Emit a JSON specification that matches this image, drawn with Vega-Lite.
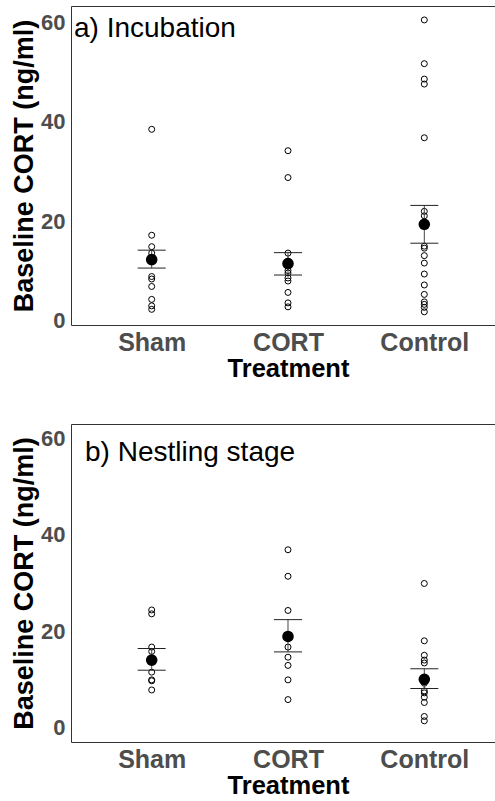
{
  "$schema": "https://vega.github.io/schema/vega-lite/v6.json",
  "background": "white",
  "padding": {"left": 10, "top": 6, "right": 0, "bottom": 0},
  "spacing": 42,
  "config": {
    "font": "Liberation Sans",
    "view": {"stroke": null},
    "axis": {
      "grid": false,
      "ticks": false,
      "tickSize": 0,
      "domainColor": "#333333",
      "domainWidth": 1,
      "labelFont": "Liberation Sans",
      "labelFontWeight": "bold",
      "labelColor": "#4d4d4d",
      "titleFont": "Liberation Sans",
      "titleFontWeight": "bold",
      "titleColor": "#000000"
    }
  },
  "datasets": {
    "raw": [
      {"panel": "a", "treatment": "Sham", "cort": 38.5},
      {"panel": "a", "treatment": "Sham", "cort": 17.2},
      {"panel": "a", "treatment": "Sham", "cort": 14.9},
      {"panel": "a", "treatment": "Sham", "cort": 13.6},
      {"panel": "a", "treatment": "Sham", "cort": 12.6},
      {"panel": "a", "treatment": "Sham", "cort": 8.9},
      {"panel": "a", "treatment": "Sham", "cort": 8.4},
      {"panel": "a", "treatment": "Sham", "cort": 6.9},
      {"panel": "a", "treatment": "Sham", "cort": 4.3},
      {"panel": "a", "treatment": "Sham", "cort": 3.0},
      {"panel": "a", "treatment": "Sham", "cort": 2.3},
      {"panel": "a", "treatment": "CORT", "cort": 34.2},
      {"panel": "a", "treatment": "CORT", "cort": 28.8},
      {"panel": "a", "treatment": "CORT", "cort": 13.6},
      {"panel": "a", "treatment": "CORT", "cort": 12.0},
      {"panel": "a", "treatment": "CORT", "cort": 10.1},
      {"panel": "a", "treatment": "CORT", "cort": 9.6},
      {"panel": "a", "treatment": "CORT", "cort": 8.6},
      {"panel": "a", "treatment": "CORT", "cort": 8.0},
      {"panel": "a", "treatment": "CORT", "cort": 5.7},
      {"panel": "a", "treatment": "CORT", "cort": 3.6},
      {"panel": "a", "treatment": "CORT", "cort": 2.8},
      {"panel": "a", "treatment": "Control", "cort": 60.5},
      {"panel": "a", "treatment": "Control", "cort": 51.7},
      {"panel": "a", "treatment": "Control", "cort": 48.6},
      {"panel": "a", "treatment": "Control", "cort": 47.6},
      {"panel": "a", "treatment": "Control", "cort": 36.8},
      {"panel": "a", "treatment": "Control", "cort": 22.0},
      {"panel": "a", "treatment": "Control", "cort": 21.1},
      {"panel": "a", "treatment": "Control", "cort": 15.0},
      {"panel": "a", "treatment": "Control", "cort": 14.6},
      {"panel": "a", "treatment": "Control", "cort": 13.1},
      {"panel": "a", "treatment": "Control", "cort": 11.6},
      {"panel": "a", "treatment": "Control", "cort": 9.4},
      {"panel": "a", "treatment": "Control", "cort": 7.2},
      {"panel": "a", "treatment": "Control", "cort": 5.3},
      {"panel": "a", "treatment": "Control", "cort": 3.8},
      {"panel": "a", "treatment": "Control", "cort": 3.3},
      {"panel": "a", "treatment": "Control", "cort": 2.7},
      {"panel": "a", "treatment": "Control", "cort": 1.8},
      {"panel": "b", "treatment": "Sham", "cort": 24.4},
      {"panel": "b", "treatment": "Sham", "cort": 23.6},
      {"panel": "b", "treatment": "Sham", "cort": 16.7},
      {"panel": "b", "treatment": "Sham", "cort": 15.8},
      {"panel": "b", "treatment": "Sham", "cort": 11.5},
      {"panel": "b", "treatment": "Sham", "cort": 9.9},
      {"panel": "b", "treatment": "Sham", "cort": 9.7},
      {"panel": "b", "treatment": "Sham", "cort": 7.8},
      {"panel": "b", "treatment": "CORT", "cort": 36.9},
      {"panel": "b", "treatment": "CORT", "cort": 31.4},
      {"panel": "b", "treatment": "CORT", "cort": 24.3},
      {"panel": "b", "treatment": "CORT", "cort": 16.7},
      {"panel": "b", "treatment": "CORT", "cort": 14.6},
      {"panel": "b", "treatment": "CORT", "cort": 12.9},
      {"panel": "b", "treatment": "CORT", "cort": 9.9},
      {"panel": "b", "treatment": "CORT", "cort": 5.8},
      {"panel": "b", "treatment": "Control", "cort": 29.9},
      {"panel": "b", "treatment": "Control", "cort": 18.0},
      {"panel": "b", "treatment": "Control", "cort": 15.0},
      {"panel": "b", "treatment": "Control", "cort": 14.0},
      {"panel": "b", "treatment": "Control", "cort": 13.4},
      {"panel": "b", "treatment": "Control", "cort": 9.2},
      {"panel": "b", "treatment": "Control", "cort": 7.6},
      {"panel": "b", "treatment": "Control", "cort": 7.2},
      {"panel": "b", "treatment": "Control", "cort": 6.3},
      {"panel": "b", "treatment": "Control", "cort": 5.2},
      {"panel": "b", "treatment": "Control", "cort": 2.3},
      {"panel": "b", "treatment": "Control", "cort": 1.4}
    ],
    "summary": [
      {"panel": "a", "treatment": "Sham", "mean": 12.3, "lo": 10.6, "hi": 14.2},
      {"panel": "a", "treatment": "CORT", "mean": 11.5, "lo": 9.2, "hi": 13.7},
      {"panel": "a", "treatment": "Control", "mean": 19.4, "lo": 15.6, "hi": 23.2},
      {"panel": "b", "treatment": "Sham", "mean": 14.0, "lo": 11.9, "hi": 16.4},
      {"panel": "b", "treatment": "CORT", "mean": 18.9, "lo": 15.7, "hi": 22.4},
      {"panel": "b", "treatment": "Control", "mean": 10.0, "lo": 8.1, "hi": 12.2}
    ]
  },
  "vconcat": [
    {
      "width": 424,
      "height": 319,
      "title": {"text": "a) Incubation", "anchor": "start", "frame": "group", "orient": "none", "align": "left", "fontSize": 28, "fontWeight": "normal", "color": "#000000", "font": "Liberation Sans", "offset": 0, "baseline": "alphabetic", "dx": 3, "dy": 31},
      "resolve": {"axis": {"x": "independent"}},
      "layer": [
        {
          "data": {"name": "raw"},
          "transform": [{"filter": "datum.panel == 'a'"}],
          "mark": {"type": "point", "shape": "circle", "filled": false, "stroke": "#000000", "strokeWidth": 1, "size": 36, "opacity": 1},
          "encoding": {
            "x": {"field": "treatment", "type": "nominal", "sort": ["Sham", "CORT", "Control"], "scale": {"type": "point", "padding": 0.5553, "align": 0.533},
              "axis": {"orient": "bottom", "labelAngle": 0, "labelFontSize": 25, "labelPadding": 5, "title": "Treatment", "titleFontSize": 25.5, "titlePadding": 1, "titleX": 217}},
            "y": {"field": "cort", "type": "quantitative", "scale": {"domain": [-0.85, 63.3], "nice": false, "zero": false},
              "axis": {"values": [0, 20, 40, 60], "labelFontSize": 22, "labelPadding": 6, "title": "Baseline CORT (ng/ml)", "titleFontSize": 27, "titlePadding": 2}}
          }
        },
        {
          "data": {"name": "summary"},
          "transform": [{"filter": "datum.panel == 'a'"}],
          "mark": {"type": "rule", "color": "#444444", "strokeWidth": 1},
          "encoding": {
            "x": {"field": "treatment", "type": "nominal", "sort": ["Sham", "CORT", "Control"], "scale": {"type": "point", "padding": 0.5553, "align": 0.533}, "axis": null},
            "y": {"field": "lo", "type": "quantitative", "scale": {"domain": [-0.85, 63.3], "nice": false, "zero": false}, "axis": {"title": "Baseline CORT (ng/ml)"}},
            "y2": {"field": "hi"}
          }
        },
        {
          "data": {"name": "summary"},
          "transform": [{"filter": "datum.panel == 'a'"}],
          "mark": {"type": "tick", "orient": "horizontal", "size": 28, "thickness": 1, "color": "#222222", "opacity": 1},
          "encoding": {
            "x": {"field": "treatment", "type": "nominal", "sort": ["Sham", "CORT", "Control"], "scale": {"type": "point", "padding": 0.5553, "align": 0.533}, "axis": null},
            "y": {"field": "hi", "type": "quantitative", "scale": {"domain": [-0.85, 63.3], "nice": false, "zero": false}, "axis": {"title": "Baseline CORT (ng/ml)"}}
          }
        },
        {
          "data": {"name": "summary"},
          "transform": [{"filter": "datum.panel == 'a'"}],
          "mark": {"type": "tick", "orient": "horizontal", "size": 28, "thickness": 1, "color": "#222222", "opacity": 1},
          "encoding": {
            "x": {"field": "treatment", "type": "nominal", "sort": ["Sham", "CORT", "Control"], "scale": {"type": "point", "padding": 0.5553, "align": 0.533}, "axis": null},
            "y": {"field": "lo", "type": "quantitative", "scale": {"domain": [-0.85, 63.3], "nice": false, "zero": false}, "axis": {"title": "Baseline CORT (ng/ml)"}}
          }
        },
        {
          "data": {"name": "summary"},
          "transform": [{"filter": "datum.panel == 'a'"}],
          "mark": {"type": "circle", "color": "#000000", "size": 135, "opacity": 1},
          "encoding": {
            "x": {"field": "treatment", "type": "nominal", "sort": ["Sham", "CORT", "Control"], "scale": {"type": "point", "padding": 0.5553, "align": 0.533},
              "axis": {"orient": "top", "labels": false, "ticks": false, "title": null, "domain": true}},
            "y": {"field": "mean", "type": "quantitative", "scale": {"domain": [-0.85, 63.3], "nice": false, "zero": false}, "axis": {"title": "Baseline CORT (ng/ml)"}}
          }
        }
      ]
    },
    {
      "width": 424,
      "height": 318,
      "title": {"text": "b) Nestling stage", "anchor": "start", "frame": "group", "orient": "none", "align": "left", "fontSize": 28, "fontWeight": "normal", "color": "#000000", "font": "Liberation Sans", "offset": 0, "baseline": "alphabetic", "dx": 14, "dy": 37},
      "resolve": {"axis": {"x": "independent"}},
      "layer": [
        {
          "data": {"name": "raw"},
          "transform": [{"filter": "datum.panel == 'b'"}],
          "mark": {"type": "point", "shape": "circle", "filled": false, "stroke": "#000000", "strokeWidth": 1, "size": 36, "opacity": 1},
          "encoding": {
            "x": {"field": "treatment", "type": "nominal", "sort": ["Sham", "CORT", "Control"], "scale": {"type": "point", "padding": 0.5553, "align": 0.533},
              "axis": {"orient": "bottom", "labelAngle": 0, "labelFontSize": 25, "labelPadding": 5, "title": "Treatment", "titleFontSize": 25.5, "titlePadding": 1, "titleX": 217}},
            "y": {"field": "cort", "type": "quantitative", "scale": {"domain": [-3, 63], "nice": false, "zero": false},
              "axis": {"values": [0, 20, 40, 60], "labelFontSize": 22, "labelPadding": 6, "title": "Baseline CORT (ng/ml)", "titleFontSize": 27, "titlePadding": 2}}
          }
        },
        {
          "data": {"name": "summary"},
          "transform": [{"filter": "datum.panel == 'b'"}],
          "mark": {"type": "rule", "color": "#444444", "strokeWidth": 1},
          "encoding": {
            "x": {"field": "treatment", "type": "nominal", "sort": ["Sham", "CORT", "Control"], "scale": {"type": "point", "padding": 0.5553, "align": 0.533}, "axis": null},
            "y": {"field": "lo", "type": "quantitative", "scale": {"domain": [-3, 63], "nice": false, "zero": false}, "axis": {"title": "Baseline CORT (ng/ml)"}},
            "y2": {"field": "hi"}
          }
        },
        {
          "data": {"name": "summary"},
          "transform": [{"filter": "datum.panel == 'b'"}],
          "mark": {"type": "tick", "orient": "horizontal", "size": 28, "thickness": 1, "color": "#222222", "opacity": 1},
          "encoding": {
            "x": {"field": "treatment", "type": "nominal", "sort": ["Sham", "CORT", "Control"], "scale": {"type": "point", "padding": 0.5553, "align": 0.533}, "axis": null},
            "y": {"field": "hi", "type": "quantitative", "scale": {"domain": [-3, 63], "nice": false, "zero": false}, "axis": {"title": "Baseline CORT (ng/ml)"}}
          }
        },
        {
          "data": {"name": "summary"},
          "transform": [{"filter": "datum.panel == 'b'"}],
          "mark": {"type": "tick", "orient": "horizontal", "size": 28, "thickness": 1, "color": "#222222", "opacity": 1},
          "encoding": {
            "x": {"field": "treatment", "type": "nominal", "sort": ["Sham", "CORT", "Control"], "scale": {"type": "point", "padding": 0.5553, "align": 0.533}, "axis": null},
            "y": {"field": "lo", "type": "quantitative", "scale": {"domain": [-3, 63], "nice": false, "zero": false}, "axis": {"title": "Baseline CORT (ng/ml)"}}
          }
        },
        {
          "data": {"name": "summary"},
          "transform": [{"filter": "datum.panel == 'b'"}],
          "mark": {"type": "circle", "color": "#000000", "size": 135, "opacity": 1},
          "encoding": {
            "x": {"field": "treatment", "type": "nominal", "sort": ["Sham", "CORT", "Control"], "scale": {"type": "point", "padding": 0.5553, "align": 0.533},
              "axis": {"orient": "top", "labels": false, "ticks": false, "title": null, "domain": true}},
            "y": {"field": "mean", "type": "quantitative", "scale": {"domain": [-3, 63], "nice": false, "zero": false}, "axis": {"title": "Baseline CORT (ng/ml)"}}
          }
        }
      ]
    }
  ]
}
